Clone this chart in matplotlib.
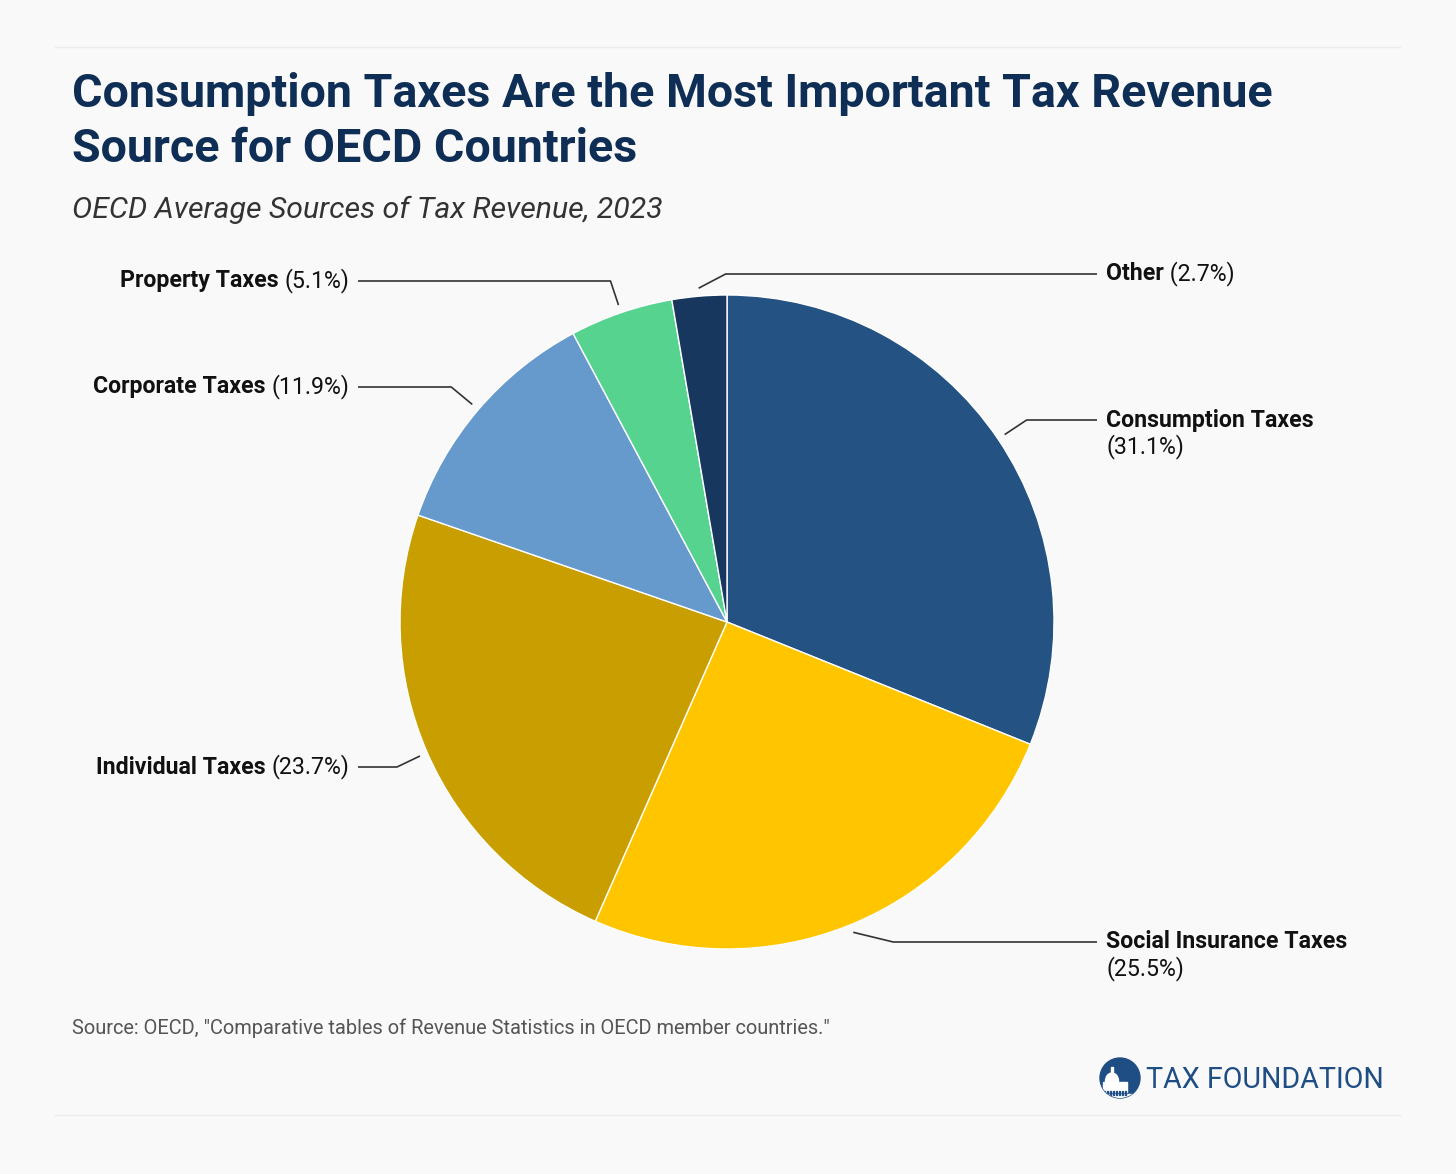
import numpy as np
import matplotlib
matplotlib.use("Agg")
import matplotlib.pyplot as plt
from matplotlib.patches import Circle, Rectangle, Ellipse

# ---------------- data ----------------
categories = ["Consumption Taxes", "Social Insurance Taxes", "Individual Taxes",
              "Corporate Taxes", "Property Taxes", "Other"]
shares = [31.1, 25.5, 23.7, 11.9, 5.1, 2.7]
colors = ["#245282", "#ffc600", "#c99e00", "#6699cc", "#56d48f", "#17375e"]

title = "Consumption Taxes Are the Most Important Tax Revenue\nSource for OECD Countries"
subtitle = "OECD Average Sources of Tax Revenue, 2023"
source = 'Source: OECD, "Comparative tables of Revenue Statistics in OECD member countries."'

# ---------------- layout ----------------
W, H = 1456, 1174
BG = "#f9f9f9"
CX, CY, R = 727, 622, 327

label_side = ["right", "right", "left", "left", "left", "right"]
label_y = [420, 942, 767, 387, 281, 274]
elbow_dx = [22, 40, -23, -21, -8, 27]
two_line = [True, True, False, False, False, False]

LABEL_FS = 16.7

plt.rcParams['font.family'] = ['Roboto', 'DejaVu Sans']

fig = plt.figure(figsize=(W / 100, H / 100), dpi=100, facecolor=BG)
ax = fig.add_axes([0, 0, 1, 1])
ax.set_facecolor(BG)


def Y(y):
    return H - y


# pie
wedges, _ = ax.pie(shares, colors=colors, startangle=90, counterclock=False,
                   center=(CX, Y(CY)), radius=R,
                   wedgeprops=dict(edgecolor="white", linewidth=1.0))
ax.set_xlim(0, W)
ax.set_ylim(0, H)
ax.set_aspect('equal')
ax.axis('off')

# separators
ax.plot([55, 1400], [Y(47), Y(47)], color="#ebebeb", lw=1)
ax.plot([55, 1400], [Y(1115), Y(1115)], color="#ebebeb", lw=1)

# title / subtitle
ax.text(72, Y(72), title, fontsize=33.6, fontweight='bold', color="#0f2e55",
        va='top', ha='left', linespacing=1.3)
ax.text(72, Y(210), subtitle, fontsize=21.8, style='italic', color="#333333",
        va='center', ha='left')

# leader lines + labels
cum = np.cumsum([0] + shares[:-1])
for i, (cat, v) in enumerate(zip(categories, shares)):
    mid = (cum[i] + v / 2) / 100 * 2 * np.pi  # clockwise from top
    tx = CX + (R + 8) * np.sin(mid)
    ty = CY - (R + 8) * np.cos(mid)
    ex = tx + elbow_dx[i]
    ey = label_y[i]
    if label_side[i] == "right":
        lx, tx_text, ha = 1097, 1106, 'left'
    else:
        lx, tx_text, ha = 358, 349, 'right'
    ax.plot([tx, ex, lx], [Y(ty), Y(ey), Y(ey)], color="#333333", lw=1.2,
            solid_capstyle='butt')
    pct = f"({v:.1f}%)"
    if two_line[i]:
        ax.text(tx_text, Y(ey), cat, fontsize=LABEL_FS, fontweight='bold',
                color="#111111", ha=ha, va='center')
        ax.text(tx_text, Y(ey + 27), pct, fontsize=LABEL_FS, color="#111111",
                ha=ha, va='center')
    else:
        if ha == 'left':
            t = ax.text(tx_text, Y(ey), cat, fontsize=LABEL_FS, fontweight='bold',
                        color="#111111", ha='left', va='center')
            ax.annotate(" " + pct, xycoords=t, xy=(1, 0.5), va='center', ha='left',
                        fontsize=LABEL_FS, color="#111111")
        else:
            t = ax.text(tx_text, Y(ey), pct, fontsize=LABEL_FS, color="#111111",
                        ha='right', va='center')
            ax.annotate(cat + " ", xycoords=t, xy=(0, 0.5), va='center', ha='right',
                        fontsize=LABEL_FS, fontweight='bold', color="#111111")

# source
ax.text(72, Y(1028), source, fontsize=14.4, color="#555555", ha='left', va='center')

# logo
LC = "#1f4e85"
lcx, lcy, lr = 1120, 1078, 20
ax.add_patch(Circle((lcx, Y(lcy)), lr, color=LC, zorder=3))
clip = Circle((lcx, Y(lcy)), lr, transform=ax.transData)
parts = [
    Ellipse((lcx - 8, Y(lcy + 3)), 13, 16, color="white", zorder=4),
    Rectangle((lcx - 9, Y(lcy - 6)), 2, 5, color="white", zorder=4),
    Rectangle((lcx - 17, Y(lcy + 14)), 24, 10, color="white", zorder=4),
    Rectangle((lcx - 22, Y(lcy + 22)), 44, 6, color="white", zorder=4),
]
for p in parts:
    ax.add_patch(p)
    p.set_clip_path(clip)
for k in range(-16, 8, 3):
    r = Rectangle((lcx + k, Y(lcy + 17)), 1, 4, color=LC, zorder=5)
    ax.add_patch(r)
    r.set_clip_path(clip)
ax.text(1146, Y(1080), "TAX FOUNDATION", fontsize=20.6, color=LC, ha='left',
        va='center')

fig.savefig("out.png", dpi=100, facecolor=BG)
